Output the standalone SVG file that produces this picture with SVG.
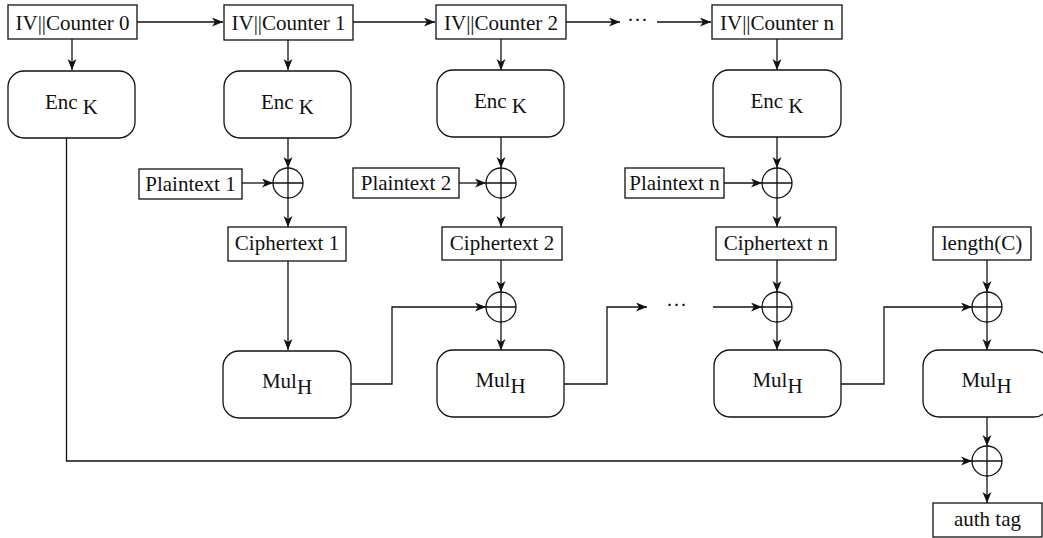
<svg xmlns="http://www.w3.org/2000/svg" width="1043" height="538" viewBox="0 0 1043 538">
<style>
.box{fill:#fff;stroke:#111;stroke-width:1.3}
.rbox{fill:#fff;stroke:#111;stroke-width:1.3}
.t{font-family:"Liberation Serif","Times New Roman",serif;font-size:21px;fill:#111;text-anchor:middle}
.c{fill:none;stroke:#111;stroke-width:1.3}
.xor{fill:#fff;stroke:#111;stroke-width:1.3}
</style>
<defs>
<marker id="ah" markerUnits="userSpaceOnUse" markerWidth="12" markerHeight="10" refX="11" refY="4.5" orient="auto">
<path d="M0,0 L11,4.5 L0,9 L3,4.5 z" fill="#111"/>
</marker>
</defs>
<rect width="1043" height="538" fill="#fff"/>
<g id="connectors">
<line class="c" x1="137" y1="22" x2="223" y2="22" marker-end="url(#ah)"/>
<line class="c" x1="353" y1="22" x2="435" y2="22" marker-end="url(#ah)"/>
<line class="c" x1="566" y1="22" x2="620" y2="22" marker-end="url(#ah)"/>
<line class="c" x1="657" y1="22" x2="711" y2="22" marker-end="url(#ah)"/>
<line class="c" x1="72" y1="39" x2="72" y2="70" marker-end="url(#ah)"/>
<line class="c" x1="288" y1="40" x2="288" y2="70" marker-end="url(#ah)"/>
<line class="c" x1="501" y1="39" x2="501" y2="70" marker-end="url(#ah)"/>
<line class="c" x1="777" y1="39" x2="777" y2="70" marker-end="url(#ah)"/>
<line class="c" x1="288" y1="138" x2="288" y2="168" marker-end="url(#ah)"/>
<line class="c" x1="501" y1="137" x2="501" y2="168" marker-end="url(#ah)"/>
<line class="c" x1="777" y1="137" x2="777" y2="168" marker-end="url(#ah)"/>
<line class="c" x1="242" y1="183" x2="273" y2="183" marker-end="url(#ah)"/>
<line class="c" x1="459" y1="183" x2="486" y2="183" marker-end="url(#ah)"/>
<line class="c" x1="724" y1="183" x2="762" y2="183" marker-end="url(#ah)"/>
<line class="c" x1="288" y1="198" x2="288" y2="227" marker-end="url(#ah)"/>
<line class="c" x1="501" y1="198" x2="501" y2="227" marker-end="url(#ah)"/>
<line class="c" x1="777" y1="198" x2="777" y2="227" marker-end="url(#ah)"/>
<line class="c" x1="288" y1="261" x2="288" y2="350" marker-end="url(#ah)"/>
<line class="c" x1="501" y1="260" x2="501" y2="292" marker-end="url(#ah)"/>
<line class="c" x1="777" y1="260" x2="777" y2="292" marker-end="url(#ah)"/>
<line class="c" x1="987" y1="260" x2="987" y2="292" marker-end="url(#ah)"/>
<line class="c" x1="501" y1="322" x2="501" y2="350" marker-end="url(#ah)"/>
<line class="c" x1="777" y1="322" x2="777" y2="350" marker-end="url(#ah)"/>
<line class="c" x1="987" y1="322" x2="987" y2="350" marker-end="url(#ah)"/>
<polyline class="c" points="351,384 392,384 392,307 486,307" marker-end="url(#ah)"/>
<polyline class="c" points="564,384 607,384 607,307 647,307" marker-end="url(#ah)"/>
<line class="c" x1="713" y1="307" x2="762" y2="307" marker-end="url(#ah)"/>
<polyline class="c" points="841,384 884,384 884,307 972,307" marker-end="url(#ah)"/>
<line class="c" x1="987" y1="417" x2="987" y2="446" marker-end="url(#ah)"/>
<polyline class="c" points="66.5,138 66.5,461 972,461" marker-end="url(#ah)"/>
<line class="c" x1="987" y1="476" x2="987" y2="503" marker-end="url(#ah)"/>
<text class="t" x="637.5" y="27">···</text>
<text class="t" x="676.5" y="312">···</text>
</g>
<g id="ctr0"><rect class="box" x="8" y="5" width="129" height="34"/><text class="t" x="72.5" y="29.5">IV||Counter 0</text></g>
<g id="ctr1"><rect class="box" x="224" y="5" width="129" height="35"/><text class="t" x="288.5" y="29.5">IV||Counter 1</text></g>
<g id="ctr2"><rect class="box" x="436" y="5" width="130" height="34"/><text class="t" x="501" y="29.5">IV||Counter 2</text></g>
<g id="ctrn"><rect class="box" x="712" y="5" width="130" height="34"/><text class="t" x="777" y="29.5">IV||Counter n</text></g>
<g id="enc0"><rect class="rbox" x="8" y="71" width="127" height="67" rx="16"/><text class="t" x="71.5" y="109">Enc <tspan dy="5">K</tspan></text></g>
<g id="enc1"><rect class="rbox" x="224" y="71" width="127" height="67" rx="16"/><text class="t" x="287.5" y="109">Enc <tspan dy="5">K</tspan></text></g>
<g id="enc2"><rect class="rbox" x="437" y="70" width="127" height="67" rx="16"/><text class="t" x="500.5" y="108">Enc <tspan dy="5">K</tspan></text></g>
<g id="encn"><rect class="rbox" x="713" y="70" width="128" height="67" rx="16"/><text class="t" x="777" y="108">Enc <tspan dy="5">K</tspan></text></g>
<g id="pt1"><rect class="box" x="139" y="169" width="103" height="30"/><text class="t" x="190.5" y="191">Plaintext 1</text></g>
<g id="pt2"><rect class="box" x="353" y="168" width="106" height="30"/><text class="t" x="406" y="190">Plaintext 2</text></g>
<g id="ptn"><rect class="box" x="625" y="168" width="99" height="30"/><text class="t" x="674.5" y="190">Plaintext n</text></g>
<g id="xor1"><circle class="xor" cx="288" cy="183" r="15"/><path class="c" d="M273,183 H303 M288,168 V198"/></g>
<g id="xor2"><circle class="xor" cx="501" cy="183" r="15"/><path class="c" d="M486,183 H516 M501,168 V198"/></g>
<g id="xorn"><circle class="xor" cx="777" cy="183" r="15"/><path class="c" d="M762,183 H792 M777,168 V198"/></g>
<g id="ct1"><rect class="box" x="228" y="227" width="118" height="34"/><text class="t" x="287" y="250">Ciphertext 1</text></g>
<g id="ct2"><rect class="box" x="442" y="227" width="120" height="33"/><text class="t" x="502" y="250">Ciphertext 2</text></g>
<g id="ctn"><rect class="box" x="716" y="227" width="120" height="33"/><text class="t" x="776" y="250">Ciphertext n</text></g>
<g id="lenc"><rect class="box" x="933" y="227" width="98" height="33"/><text class="t" x="982" y="250">length(C)</text></g>
<g id="gx2"><circle class="xor" cx="501" cy="307" r="15"/><path class="c" d="M486,307 H516 M501,292 V322"/></g>
<g id="gxn"><circle class="xor" cx="777" cy="307" r="15"/><path class="c" d="M762,307 H792 M777,292 V322"/></g>
<g id="gxl"><circle class="xor" cx="987" cy="307" r="15"/><path class="c" d="M972,307 H1002 M987,292 V322"/></g>
<g id="mul1"><rect class="rbox" x="223" y="351" width="128" height="67" rx="16"/><text class="t" x="287" y="388">Mul<tspan dy="6">H</tspan></text></g>
<g id="mul2"><rect class="rbox" x="437" y="350" width="127" height="67" rx="16"/><text class="t" x="500.5" y="387">Mul<tspan dy="6">H</tspan></text></g>
<g id="muln"><rect class="rbox" x="714" y="350" width="127" height="67" rx="16"/><text class="t" x="777.5" y="387">Mul<tspan dy="6">H</tspan></text></g>
<g id="mull"><rect class="rbox" x="923" y="350" width="127" height="67" rx="16"/><text class="t" x="986.5" y="387">Mul<tspan dy="6">H</tspan></text></g>
<g id="xortag"><circle class="xor" cx="987" cy="461" r="15"/><path class="c" d="M972,461 H1002 M987,446 V476"/></g>
<g id="tag"><rect class="box" x="933" y="503" width="109" height="34"/><text class="t" x="987.5" y="526">auth tag</text></g>
</svg>
